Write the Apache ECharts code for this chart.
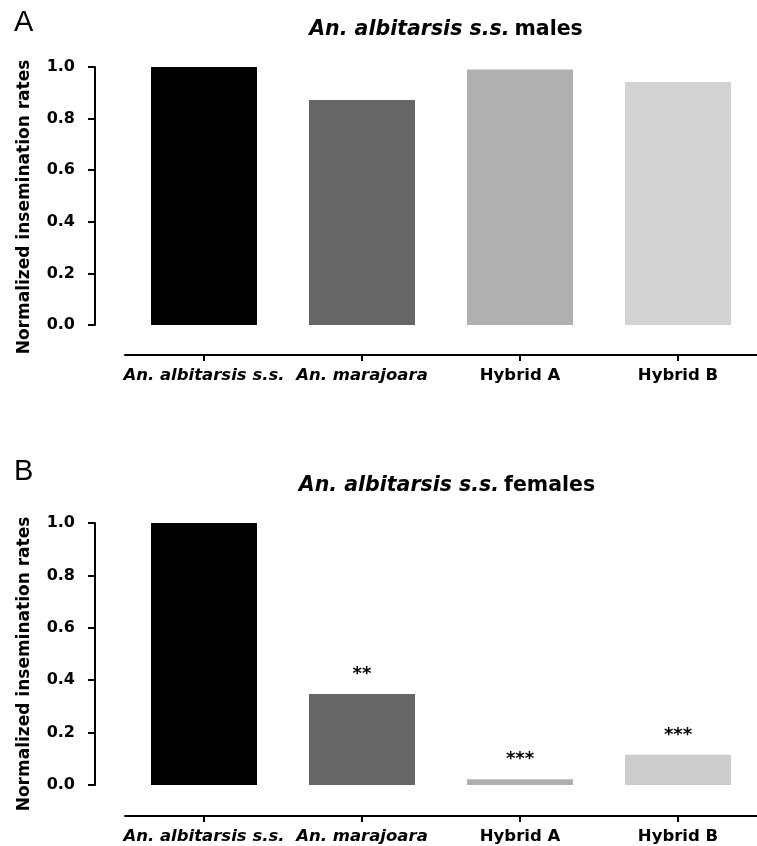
<!DOCTYPE html>
<html>
<head>
<meta charset="utf-8">
<script src="https://cdn.jsdelivr.net/npm/echarts@6/dist/echarts.min.js"></script>
<style>html,body{margin:0;padding:0;background:#fff;}#c{width:757px;height:846px;}</style>
</head>
<body>
<div id="c"></div>
<script>
const categories = ['An. albitarsis s.s.', 'An. marajoara', 'Hybrid A', 'Hybrid B'];
const italicCats = [true, true, false, false];
const malesValues = [1.0, 0.872, 0.99, 0.942];
const femalesValues = [1.0, 0.347, 0.022, 0.115];
const femalesSignif = ['', '**', '***', '***'];
const malesColors = ['#000000', '#666666', '#b0b0b0', '#d3d3d3'];
const femalesColors = ['#000000', '#666666', '#b0b0b0', '#cccccc'];
const yTicks = [0, 0.2, 0.4, 0.6, 0.8, 1.0];

const FONT = 'DejaVu Sans, sans-serif';
const chart = echarts.init(document.getElementById('c'));

function xAxis(gridIndex, offset) {
  return {
    type: 'category', gridIndex: gridIndex, data: categories, offset: offset,
    axisLine: { show: true, onZero: false, lineStyle: { color: '#000', width: 2 } },
    axisTick: { show: true, alignWithLabel: true, inside: false, length: 6, lineStyle: { color: '#000', width: 2 } },
    axisLabel: {
      margin: 12, interval: 0, hideOverlap: false,
      formatter: function (v, i) { return italicCats[i] ? '{i|' + v + '}' : '{b|' + v + '}'; },
      rich: {
        i: { fontFamily: FONT, fontSize: 16.5, fontWeight: 'bold', fontStyle: 'italic', color: '#000' },
        b: { fontFamily: FONT, fontSize: 16.5, fontWeight: 'bold', color: '#000' }
      }
    }
  };
}
function yAxis(gridIndex, namePad) {
  return {
    type: 'value', gridIndex: gridIndex, min: yTicks[0], max: yTicks[yTicks.length - 1], interval: 0.2, offset: 30,
    name: 'Normalized insemination rates', nameLocation: 'middle', nameGap: 62, nameRotate: 90,
    nameTextStyle: { fontFamily: FONT, fontSize: 17, fontWeight: 'bold', color: '#000', padding: [0, namePad, 0, 0] },
    axisLine: { show: true, lineStyle: { color: '#000', width: 2 } },
    axisTick: { show: true, length: 7, lineStyle: { color: '#000', width: 2 } },
    splitLine: { show: false },
    axisLabel: {
      margin: 20, fontFamily: FONT, fontSize: 16, fontWeight: 'bold', color: '#000',
      formatter: function (v) { return v.toFixed(1); }
    }
  };
}
function titleRich(rest) {
  return {
    text: '{i|An. albitarsis s.s.} {b|' + rest + '}',
    textStyle: {
      rich: {
        i: { fontFamily: FONT, fontSize: 20.5, fontWeight: 'bold', fontStyle: 'italic', color: '#000' },
        b: { fontFamily: FONT, fontSize: 20.5, fontWeight: 'bold', color: '#000' }
      }
    }
  };
}

chart.setOption({
  animation: false,
  backgroundColor: '#fff',
  title: [
    Object.assign({ left: 441, top: 14, textAlign: 'center' }, titleRich('males')),
    Object.assign({ left: 442, top: 470, textAlign: 'center' }, titleRich('females')),
    { text: 'A', left: 9, top: 3, textStyle: { fontFamily: 'Liberation Sans, Arial, sans-serif', fontSize: 29, fontWeight: 'normal', color: '#000' } },
    { text: 'B', left: 9, top: 452, textStyle: { fontFamily: 'Liberation Sans, Arial, sans-serif', fontSize: 29, fontWeight: 'normal', color: '#000' } }
  ],
  grid: [
    { left: 125, width: 641, top: 67, height: 258 },
    { left: 125, width: 641, top: 523, height: 262 }
  ],
  xAxis: [xAxis(0, 30), xAxis(1, 31)],
  yAxis: [yAxis(0, 22), yAxis(1, 20)],
  series: [
    {
      type: 'bar', xAxisIndex: 0, yAxisIndex: 0, barWidth: 106,
      data: malesValues.map(function (v, i) { return { value: v, itemStyle: { color: malesColors[i] } }; })
    },
    {
      type: 'bar', xAxisIndex: 1, yAxisIndex: 1, barWidth: 106,
      data: femalesValues.map(function (v, i) { return { value: v, itemStyle: { color: femalesColors[i] } }; }),
      label: {
        show: true, position: 'top', distance: 11,
        formatter: function (p) { return femalesSignif[p.dataIndex]; },
        fontFamily: FONT, fontSize: 18, fontWeight: 'bold', color: '#000'
      }
    }
  ]
});
</script>
</body>
</html>
